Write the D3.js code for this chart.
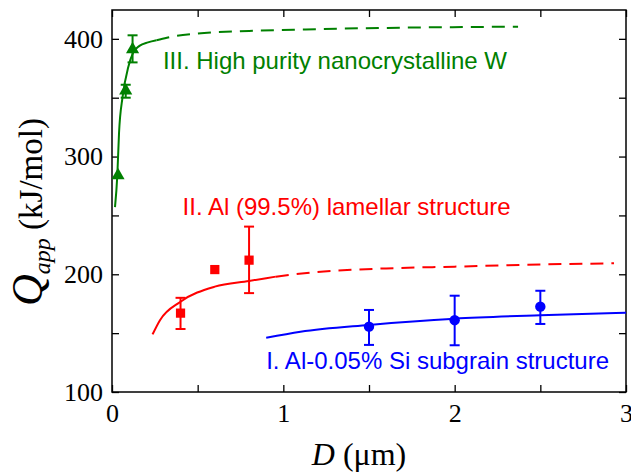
<!DOCTYPE html>
<html>
<head>
<meta charset="utf-8">
<script src="https://cdn.jsdelivr.net/npm/d3@7"></script>
<style>
    body { margin: 0; background: #fff; }
    svg { display: block; }
</style>
</head>
<body>
<div id="chart"></div>
<script>

//******************************************************************************
//**  Data
//******************************************************************************

  //Measured points [D (um), Q (kJ/mol), error low, error high]
    var wPoints = [[0.035, 284, null, null], [0.08, 356, 350, 361], [0.12, 391, 380, 403]];
    var alPoints = [[0.4, 167, 153.5, 180], [0.6, 204, null, null], [0.8, 212, 184, 240.5]];
    var alSiPoints = [[1.5, 155.5, 140, 169.7], [2.0, 161, 139.7, 181.8], [2.5, 172.5, 157.8, 186]];

  //Model curves (solid = fitted range, dashed = extrapolated)
    var wSolid = [[0.0175, 257], [0.031, 284], [0.041, 320], [0.062, 351], [0.095, 376], [0.124, 388.5], [0.16, 394], [0.21, 397], [0.26, 398.8]];
    var wDashed = [[0.26, 398.8], [0.32, 401], [0.5, 404.5], [0.8, 406.7], [1.13, 408], [1.7, 409.5], [2.37, 410.3]];
    var alSolid = [[0.237, 149], [0.28, 161], [0.4, 176.7], [0.6, 189.5], [0.8, 194.3], [0.956, 198]];
    var alDashed = [[0.956, 198], [1.2, 202], [1.6, 205], [2.0, 206.5], [2.5, 208.3], [2.93, 209.3]];
    var alSiSolid = [[0.9, 146], [1.1, 151.2], [1.5, 157], [2.0, 162.3], [2.5, 165.2], [3.0, 167.3]];

  //Labels
    var seriesLabels = ["III. High purity nanocrystalline W", "II. Al (99.5%) lamellar structure", "I. Al-0.05% Si subgrain structure"];
    var labelPos = [[0.297, 69.3], [0.412, 215], [0.9, 369.3]]; //[D, baseline px] of each label
    var xTicks = [0, 0.5, 1, 1.5, 2, 2.5, 3];
    var yTicks = [100, 150, 200, 250, 300, 350, 400];


//******************************************************************************
//**  Chart
//******************************************************************************
    var width = 631, height = 473;
    var margin = {top: 10, right: 5, bottom: 81, left: 112};
    var w = width - margin.left - margin.right;
    var h = height - margin.top - margin.bottom;

    var svg = d3.select("#chart").append("svg")
        .attr("width", width)
        .attr("height", height);

    var g = svg.append("g")
        .attr("transform", "translate(" + margin.left + "," + margin.top + ")");

    var x = d3.scaleLinear().domain([0, 3]).range([0, w]);
    var y = d3.scaleLinear().domain([100, 424.5]).range([h, 0]);

    var serif = "'Liberation Serif', 'Times New Roman', serif";
    var sans = "'Liberation Sans', Arial, sans-serif";


  //**************************************************************************
  //** Axes
  //**************************************************************************
    var fmtX = function(d){ return (d % 1 === 0) ? d : ""; };
    var fmtY = function(d){ return (d % 100 === 0) ? d : ""; };

    var styleAxis = function(sel){
        sel.select(".domain").remove();
        sel.selectAll(".tick line").attr("stroke", "#000").attr("stroke-width", 1.3);
        sel.selectAll(".tick text")
            .style("font-family", serif)
            .style("font-size", "26px")
            .attr("fill", "#000");
    };

    g.append("g")
        .attr("transform", "translate(0," + h + ")")
        .call(d3.axisBottom(x).tickValues(xTicks).tickFormat(fmtX).tickSizeInner(-7).tickSizeOuter(0).tickPadding(12))
        .call(styleAxis);

    g.append("g")
        .call(d3.axisTop(x).tickValues(xTicks).tickFormat("").tickSizeInner(-7).tickSizeOuter(0))
        .call(styleAxis);

    g.append("g")
        .call(d3.axisLeft(y).tickValues(yTicks).tickFormat(fmtY).tickSizeInner(-7).tickSizeOuter(0).tickPadding(9))
        .call(styleAxis);

    g.append("g")
        .attr("transform", "translate(" + w + ",0)")
        .call(d3.axisRight(y).tickValues(yTicks).tickFormat("").tickSizeInner(-7).tickSizeOuter(0))
        .call(styleAxis);

    g.append("rect")
        .attr("width", w)
        .attr("height", h)
        .attr("fill", "none")
        .attr("stroke", "#000")
        .attr("stroke-width", 1.5);


  //Axis titles
    var xt = svg.append("text")
        .attr("x", 359)
        .attr("y", 465)
        .attr("text-anchor", "middle")
        .style("font-family", serif)
        .style("font-size", "32px");
    xt.append("tspan").style("font-family", serif).style("font-style", "italic").text("D");
    xt.append("tspan").style("font-family", serif).text(" (\u03bcm)");

    var yt = svg.append("text")
        .attr("transform", "translate(42,212) rotate(-90)")
        .attr("text-anchor", "middle")
        .style("font-family", serif)
        .style("font-size", "33px");
    yt.append("tspan").style("font-family", serif).style("font-style", "italic").style("font-size", "44px").text("Q");
    yt.append("tspan").style("font-family", serif).style("font-style", "italic").style("font-size", "24px").attr("dy", 8).text("app");
    yt.append("tspan").style("font-family", serif).attr("dy", -8).text(" (kJ/mol)");


  //**************************************************************************
  //** Curves
  //**************************************************************************
    var line = d3.line()
        .curve(d3.curveMonotoneX)
        .x(function(d){ return x(d[0]); })
        .y(function(d){ return y(d[1]); });

    var drawCurve = function(data, color, dashed){
        g.append("path")
            .attr("d", line(data))
            .attr("fill", "none")
            .attr("stroke", color)
            .attr("stroke-width", 2)
            .attr("stroke-dasharray", dashed ? "13,8" : null);
    };

    var green = "#008000", red = "#ff0000", blue = "#0000ff";

    drawCurve(wSolid, green, false);
    drawCurve(wDashed, green, true);
    drawCurve(alSolid, red, false);
    drawCurve(alDashed, red, true);
    drawCurve(alSiSolid, blue, false);


  //**************************************************************************
  //** Error bars and markers
  //**************************************************************************
    var drawPoints = function(data, color, shape){
        var grp = g.append("g").attr("fill", color).attr("stroke", color);
        data.forEach(function(d){
            var cx = x(d[0]), cy = y(d[1]);
            if (d[2] !== null){
                var y0 = y(d[2]), y1 = y(d[3]);
                grp.append("line").attr("x1", cx).attr("x2", cx).attr("y1", y0).attr("y2", y1).attr("stroke-width", 2);
                grp.append("line").attr("x1", cx-5).attr("x2", cx+5).attr("y1", y0).attr("y2", y0).attr("stroke-width", 2);
                grp.append("line").attr("x1", cx-5).attr("x2", cx+5).attr("y1", y1).attr("y2", y1).attr("stroke-width", 2);
            }
            grp.append("path")
                .attr("transform", "translate(" + cx + "," + cy + ")")
                .attr("d", d3.symbol().type(shape).size(shape === d3.symbolTriangle ? 75 : 85)())
                .attr("stroke", "none");
        });
    };

    drawPoints(wPoints, green, d3.symbolTriangle);
    drawPoints(alPoints, red, d3.symbolSquare);
    drawPoints(alSiPoints, blue, d3.symbolCircle);


  //**************************************************************************
  //** Labels
  //**************************************************************************
    var colors = [green, red, blue];
    seriesLabels.forEach(function(t, i){
        svg.append("text")
            .attr("x", margin.left + x(labelPos[i][0]))
            .attr("y", labelPos[i][1])
            .style("font-family", sans)
            .style("font-size", "24px")
            .attr("fill", colors[i])
            .text(t);
    });

</script>
</body>
</html>
